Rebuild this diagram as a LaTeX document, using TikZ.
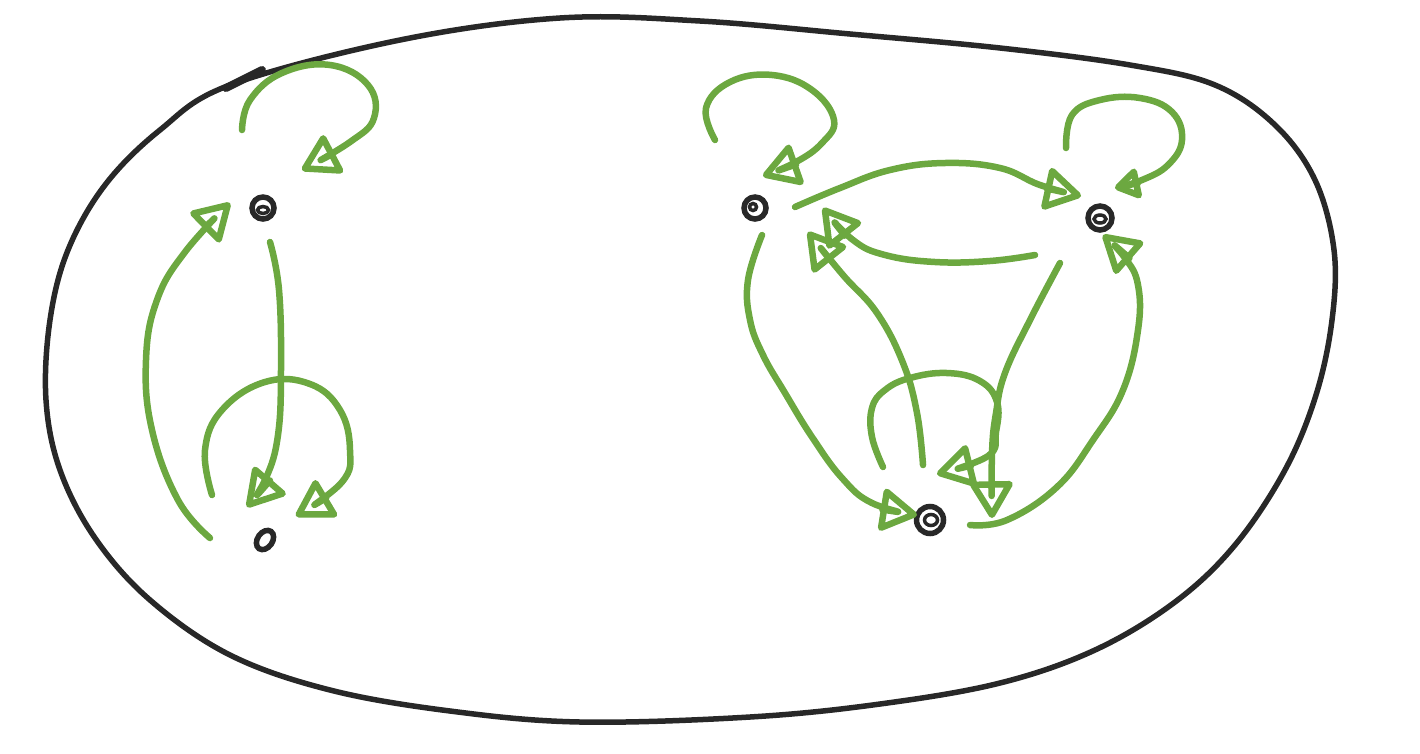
\documentclass[tikz,border=0pt]{standalone}
\usetikzlibrary{arrows.meta,calc,shapes.geometric}
\definecolor{grn}{RGB}{108,168,64}
\definecolor{ink}{RGB}{40,40,40}
\begin{document}
\begin{tikzpicture}[x=1pt,y=-1pt,
  edge/.style={draw=grn, line width=6.5pt, line cap=round, line join=round,
    -{Triangle[open,length=40pt,width=46pt,round]}},
  smalledge/.style={edge, -{Triangle[open,length=28pt,width=34pt,round]}},
  obj/.style={circle, draw=ink, line width=5.5pt, inner sep=0pt, minimum size=22pt},
  inner/.style={draw=ink, line width=3.5pt},
  blob/.style={draw=ink, line width=5.5pt}]
\useasboundingbox (0,0) rectangle (1420,753);

% enclosing blob
\draw[blob] plot[smooth cycle, tension=0.6] coordinates {
  (230,85) (400,40) (560,18) (700,21) (850,34) (1000,48) (1130,65) (1215,85)
  (1275,125) (1315,180) (1334,250) (1332,320) (1316,395) (1285,470) (1235,545)
  (1175,602) (1095,650) (1000,683) (880,704) (750,717) (580,722) (450,711)
  (330,690) (230,655) (150,600) (95,538) (60,470) (46,400) (50,320) (68,250)
  (105,185) (160,130)};
\draw[ink, line width=8pt, line cap=round] (226,88) -- (262,70);

% objects
\node[obj] (A) at (263,208) {};
\draw[inner] ($(A)+(0,2)$) ellipse (5.5 and 3.5);
\node[draw=ink, line width=5.5pt, ellipse, inner sep=0pt, minimum width=15pt, minimum height=21pt, rotate=-35] (B) at (265,540) {};
\node[obj] (C) at (755,208) {};
\draw[inner] ($(C)+(-2,-1)$) circle (3.5);
\node[obj, minimum size=24pt] (D) at (1100,218) {};
\draw[inner] ($(D)+(0,1)$) ellipse (6 and 4);
\node[obj, minimum size=27pt] (E) at (930,520) {};
\draw[inner] ($(E)+(1,0)$) ellipse (6.5 and 5.5);

% anchor points of the connectors, placed relative to the objects
\coordinate (a1s) at ($(A)+(-21,-78)$);
\coordinate (a1e) at ($(A)+(39,-38)$);
\coordinate (abs) at ($(A)+(7,34)$);
\coordinate (bae) at ($(A)+(-33,-5)$);
\coordinate (abe) at ($(B)+(-18,-33)$);
\coordinate (bas) at ($(B)+(-55,-2)$);
\coordinate (b1s) at ($(B)+(-53,-45)$);
\coordinate (b1e) at ($(B)+(31,-24)$);

\coordinate (c1s) at ($(C)+(-40,-68)$);
\coordinate (c1e) at ($(C)+(8,-32)$);
\coordinate (cds) at ($(C)+(40,-1)$);
\coordinate (dce) at ($(C)+(68,0)$);
\coordinate (ece) at ($(C)+(53,24)$);
\coordinate (ces) at ($(C)+(7,27)$);

\coordinate (d1s) at ($(D)+(-34,-70)$);
\coordinate (d1e) at ($(D)+(15,-30)$);
\coordinate (cde) at ($(D)+(-19,-22)$);
\coordinate (dcs) at ($(D)+(-65,37)$);
\coordinate (des) at ($(D)+(-40,45)$);
\coordinate (ede) at ($(D)+(3,17)$);

\coordinate (ecs) at ($(E)+(-7,-55)$);
\coordinate (cee) at ($(E)+(-13,-5)$);
\coordinate (dee) at ($(E)+(62,-2)$);
\coordinate (eds) at ($(E)+(40,5)$);
\coordinate (e1s) at ($(E)+(-47,-53)$);
\coordinate (e1e) at ($(E)+(7,-46)$);

% left graph
\draw[edge] plot[smooth, tension=0.7] coordinates {(a1s) (250,100) (282,73) (330,65) (368,85) (374,118) (350,142) (a1e)};
\draw[edge] plot[smooth, tension=0.7] coordinates {(abs) (279,290) (281,370) (278,435) (266,478) (abe)};
\draw[edge] plot[smooth, tension=0.7] coordinates {(bas) (178,500) (152,430) (146,360) (157,300) (185,252) (bae)};
\draw[edge] plot[smooth, tension=0.7] coordinates {(b1s) (205,450) (222,410) (265,382) (310,384) (340,410) (350,450) (342,482) (b1e)};

% right graph
\draw[edge] plot[smooth, tension=0.7] coordinates {(c1s) (706,108) (730,82) (772,75) (812,90) (834,120) (822,143) (796,162) (c1e)};
\draw[smalledge] plot[smooth, tension=0.7] coordinates {(d1s) (1072,115) (1100,100) (1140,98) (1172,112) (1182,140) (1168,165) (1142,180) (d1e)};
\draw[edge] plot[smooth, tension=0.7] coordinates {(cds) (840,188) (890,170) (945,163) (1000,168) (1040,185) (cde)};
\draw[edge] plot[smooth, tension=0.7] coordinates {(dcs) (990,261) (935,262) (885,255) (853,240) (dce)};
\draw[edge] plot[smooth, tension=0.7] coordinates {(ecs) (917,413) (903,363) (877,313) (843,275) (ece)};
\draw[edge] plot[smooth, tension=0.7] coordinates {(ces) (748,280) (750,320) (763,355) (785,393) (812,437) (842,478) (872,503) (cee)};
\draw[edge] plot[smooth, tension=0.7] coordinates {(des) (1030,320) (1005,373) (996,413) (992,453) (dee)};
\draw[edge] plot[smooth, tension=0.7] coordinates {(eds) (1007,520) (1057,487) (1093,440) (1123,390) (1138,330) (1138,285) (1125,258) (ede)};
\draw[edge] plot[smooth, tension=0.7] coordinates {(e1s) (872,437) (872,408) (885,390) (910,378) (947,373) (980,381) (997,402) (996,432) (988,456) (e1e)};
\end{tikzpicture}
\end{document}
